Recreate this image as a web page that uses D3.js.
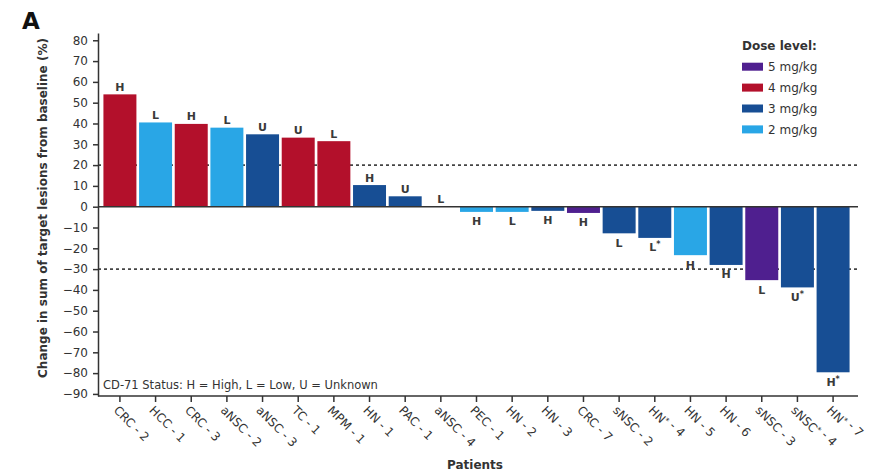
<!DOCTYPE html>
<html>
<head>
<meta charset="utf-8">
<script src="https://cdn.jsdelivr.net/npm/d3@7"></script>
<style>
  html, body { margin: 0; padding: 0; background: #fff; }
  svg { display: block; font-family: "DejaVu Sans", "Liberation Sans", Arial, sans-serif; }
</style>
</head>
<body>
<svg id="chart" width="869" height="476"></svg>
<script>
// Per-patient best change in target lesions, ordered from largest increase to largest decrease
const patients = ["CRC - 2", "HCC - 1", "CRC - 3", "aNSC - 2", "aNSC - 3", "TC - 1", "MPM - 1",
  "HN - 1", "PAC - 1", "aNSC - 4", "PEC - 1", "HN - 2", "HN - 3", "CRC - 7", "sNSC - 2",
  "HN* - 4", "HN - 5", "HN - 6", "sNSC - 3", "sNSC* - 4", "HN* - 7"];
const changes = [54, 40.5, 39.8, 38, 34.8, 33.2, 31.5, 10.4, 5, 0, -2.5, -2.5, -2, -3, -12.8,
  -15, -23.3, -28, -35.3, -38.8, -79.6];
const cd71Status = ["H", "L", "H", "L", "U", "U", "L", "H", "U", "L", "H", "L", "H", "H", "L",
  "L*", "H", "H", "L", "U*", "H*"];
const doseMgKg = [4, 2, 4, 2, 3, 4, 4, 3, 3, 3, 2, 2, 3, 5, 3, 3, 2, 3, 5, 3, 3];

const doseLevels = [5, 4, 3, 2];
const doseLabels = ["5 mg/kg", "4 mg/kg", "3 mg/kg", "2 mg/kg"];
const yTicks = [80, 70, 60, 50, 40, 30, 20, 10, 0, -10, -20, -30, -40, -50, -60, -70, -80, -90];
const thresholds = [20, -30];

const svg = d3.select("#chart");

const color = d3.scaleOrdinal()
  .domain(doseLevels)
  .range(["#4f1f8f", "#b3102b", "#174e94", "#29a6e6"]);

const x = d3.scaleBand()
  .domain(patients)
  .range([102, 851])
  .paddingInner(0.075)
  .paddingOuter(0.04);

const y = d3.scaleLinear()
  .domain([-91, 83.5])
  .range([396, 33]);

const axisLeft = 98, axisRight = 858;

// Append text, drawing any "*" as a small raised mark
function starText(sel, str, small) {
  const parts = str.split("*");
  parts.forEach((p, i) => {
    if (p) sel.append("tspan").text(p);
    if (i < parts.length - 1) {
      sel.append("tspan").attr("font-size", small).attr("dy", -4).text("*");
      if (parts[i + 1]) sel.append("tspan").attr("dy", 4).text("");
    }
  });
}

// Response thresholds (+20%, -30%), behind the bars
svg.append("g").selectAll("line")
  .data(thresholds)
  .join("line")
  .attr("x1", axisLeft).attr("x2", axisRight)
  .attr("y1", d => y(d)).attr("y2", d => y(d))
  .attr("stroke", "#444")
  .attr("stroke-width", 1.6)
  .attr("stroke-dasharray", "3,3");

// Bars
const rows = patients.map((p, i) => ({ p, v: changes[i], s: cd71Status[i], dose: doseMgKg[i] }));

svg.append("g").selectAll("rect")
  .data(rows)
  .join("rect")
  .attr("x", d => x(d.p))
  .attr("width", x.bandwidth())
  .attr("y", d => Math.min(y(d.v), y(0)))
  .attr("height", d => Math.abs(y(d.v) - y(0)))
  .attr("fill", d => color(d.dose));

// CD-71 status letters
svg.append("g").selectAll("text")
  .data(rows)
  .join("text")
  .attr("x", d => x(d.p) + x.bandwidth() / 2)
  .attr("y", d => d.v >= 0 ? y(d.v) - 3.5 : y(d.v) + 13.5)
  .attr("text-anchor", "middle")
  .attr("font-size", 11)
  .attr("font-weight", "bold")
  .attr("fill", "#3a3a3a")
  .each(function (d) { starText(d3.select(this), d.s, 8); });

// Zero line
svg.append("line")
  .attr("x1", axisLeft).attr("x2", axisRight)
  .attr("y1", y(0)).attr("y2", y(0))
  .attr("stroke", "#333").attr("stroke-width", 1.5);

// Y axis
const gy = svg.append("g")
  .attr("transform", `translate(${axisLeft},0)`)
  .call(d3.axisLeft(y).tickValues(yTicks).tickSize(5).tickPadding(5).tickSizeOuter(0));
gy.select(".domain").attr("stroke", "#333").attr("stroke-width", 1.5);
gy.selectAll(".tick line").attr("stroke", "#333").attr("stroke-width", 1.5);
gy.selectAll(".tick text")
  .attr("font-family", "DejaVu Sans, sans-serif")
  .attr("font-size", 12).attr("fill", "#333");

// X axis
const gx = svg.append("g")
  .attr("transform", `translate(0,396)`)
  .call(d3.axisBottom(x).tickSize(6).tickSizeOuter(0).tickFormat(""));
gx.select(".domain").attr("d", `M${axisLeft},0H${axisRight}`)
  .attr("stroke", "#333").attr("stroke-width", 1.5);
gx.selectAll(".tick line").attr("stroke", "#333").attr("stroke-width", 1.5);

svg.append("g").selectAll("text")
  .data(patients)
  .join("text")
  .attr("transform", d => `translate(${x(d) + x.bandwidth() / 2 - 7},411) rotate(45)`)
  .attr("text-anchor", "start")
  .attr("font-size", 12)
  .attr("fill", "#333")
  .each(function (d) { starText(d3.select(this), d, 8); });

// Axis titles
svg.append("text")
  .attr("transform", `translate(47,208) rotate(-90)`)
  .attr("text-anchor", "middle")
  .attr("font-size", 12)
  .attr("font-weight", "bold")
  .attr("fill", "#333")
  .text("Change in sum of target lesions from baseline (%)");

svg.append("text")
  .attr("x", 475).attr("y", 469)
  .attr("text-anchor", "middle")
  .attr("font-size", 12)
  .attr("font-weight", "bold")
  .attr("fill", "#333")
  .text("Patients");

// Panel letter
svg.append("text")
  .attr("x", 22).attr("y", 29)
  .attr("font-size", 23)
  .attr("font-weight", "bold")
  .attr("fill", "#111")
  .text("A");

// Status key
svg.append("text")
  .attr("x", 103).attr("y", 389)
  .attr("font-size", 11.5)
  .attr("fill", "#333")
  .text("CD-71 Status: H = High, L = Low, U = Unknown");

// Dose legend
const legend = svg.append("g").attr("transform", "translate(742,0)");
legend.append("text")
  .attr("x", 0).attr("y", 50)
  .attr("font-size", 12)
  .attr("font-weight", "bold")
  .attr("fill", "#333")
  .text("Dose level:");
const item = legend.selectAll("g.item")
  .data(doseLevels)
  .join("g")
  .attr("class", "item")
  .attr("transform", (d, i) => `translate(0,${66.7 + i * 20.9})`);
item.append("rect")
  .attr("x", 0).attr("y", -4).attr("width", 21).attr("height", 8)
  .attr("fill", d => color(d));
item.append("text")
  .attr("x", 26).attr("y", 4.3)
  .attr("font-size", 12)
  .attr("fill", "#333")
  .text((d, i) => doseLabels[i]);
</script>
</body>
</html>
